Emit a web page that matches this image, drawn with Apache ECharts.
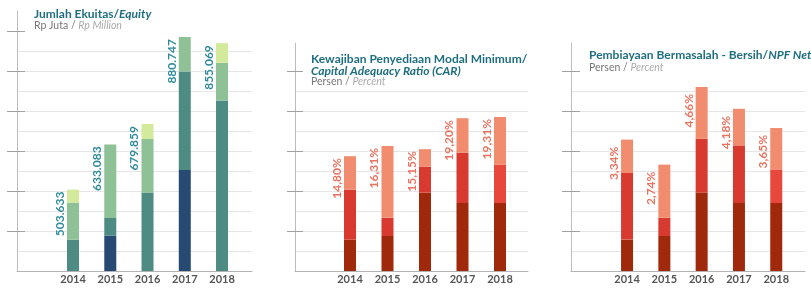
<!DOCTYPE html>
<html>
<head>
<meta charset="utf-8">
<script src="https://cdn.jsdelivr.net/npm/echarts@6.0.0/dist/echarts.min.js"></script>
<style>
  html, body { margin: 0; padding: 0; background: #fff; }
  #main { width: 811px; height: 288px; }
</style>
</head>
<body>
<div id="main"></div>
<script>
// 年份
const years = ['2014', '2015', '2016', '2017', '2018'];

// Jumlah Ekuitas - 每段高度 (1 = 一条网格线间距)
const equityNavy  = [0, 1.77, 0, 5.05, 0];
const equityTeal  = [1.57, 0.88, 3.92, 4.93, 8.53];
const equityGreen = [1.85, 3.68, 2.68, 1.72, 1.88];
const equityLime  = [0.65, 0, 0.75, 0, 0.98];
const equityLabels = ['503.633', '633.083', '679.859', '880.747', '855.069'];

// CAR
const carDark   = [1.57, 1.75, 3.92, 3.4, 3.4];
const carRed    = [2.5, 0.92, 1.3, 2.52, 1.92];
const carSalmon = [1.67, 3.58, 0.87, 1.72, 2.38];
const carLabels = ['14,80%', '16,31%', '15,15%', '19,20%', '19,31%'];

// NPF Net
const npfDark   = [1.57, 1.75, 3.92, 3.4, 3.4];
const npfRed    = [3.33, 0.92, 2.7, 2.88, 1.68];
const npfSalmon = [1.67, 2.65, 2.58, 1.83, 2.07];
const npfLabels = ['3,34%', '2,74%', '4,66%', '4,18%', '3,65%'];

const FONT = 'Lato, "Open Sans", sans-serif';
const BASE = 271; // 三个面板共同的基线 y
const TEAL_TITLE = '#1f6e80';

const panels = [
  {
    left: 17, width: 235, top: 11, max: 13, barLeft: 54.4, band: 37.25,
    gridLines: 11, ticks: [2, 4, 6, 8, 10, 12], tickOut: 10, tickIn: 8,
    title: '{t|Jumlah Ekuitas/}{ti|Equity}', sub: '{s|Rp Juta / }{si|Rp Million}',
    titleLeft: 34, titleTop: 8.5, itemGap: 0,
    stack: [
      { data: equityNavy, color: '#274a72' },
      { data: equityTeal, color: '#4e8b82' },
      { data: equityGreen, color: '#8fc196' },
      { data: equityLime, color: '#d3e99c' }
    ],
    labels: equityLabels, labelColor: '#2e8a9c', labelOffset: 2
  },
  {
    left: 295, width: 233, top: 43, max: 11.4, barLeft: 331.25, band: 37.5,
    gridLines: 9, ticks: [2, 4, 6, 8, 10], tickOut: 8, tickIn: 8,
    title: '{t|Kewajiban Penyediaan Modal Minimum/}\n{ti|Capital Adequacy Ratio (CAR)}',
    sub: '{s|Persen / }{si|Percent}',
    titleLeft: 311, titleTop: 53, itemGap: 0,
    stack: [
      { data: carDark, color: '#a1290b' },
      { data: carRed, color: '#d83a30', last: '#e8473b' },
      { data: carSalmon, color: '#f28c6e' }
    ],
    labels: carLabels, labelColor: '#e9735f', labelOffset: 2
  },
  {
    left: 571, width: 234, top: 43, max: 11.4, barLeft: 608.4, band: 37.3,
    gridLines: 9, ticks: [2, 4, 6, 8, 10], tickOut: 9, tickIn: 9,
    title: '{t|Pembiayaan Bermasalah - Bersih/}{ti|NPF Net}',
    sub: '{s|Persen / }{si|Percent}',
    titleLeft: 589, titleTop: 49, itemGap: 2,
    stack: [
      { data: npfDark, color: '#a1290b' },
      { data: npfRed, color: '#d83a30', last: '#e8473b' },
      { data: npfSalmon, color: '#f28c6e' }
    ],
    labels: npfLabels, labelColor: '#e9735f', labelOffset: 7
  }
];

const titleRich = {
  t:  { fontFamily: FONT, fontWeight: 'bold', fontSize: 12, lineHeight: 12, color: TEAL_TITLE },
  ti: { fontFamily: FONT, fontWeight: 'bold', fontStyle: 'italic', fontSize: 12, lineHeight: 12, color: TEAL_TITLE }
};
const subRich = {
  s:  { fontFamily: FONT, fontSize: 10.5, lineHeight: 10, color: '#777' },
  si: { fontFamily: FONT, fontStyle: 'italic', fontSize: 10.5, lineHeight: 10, color: '#aaa' }
};

let option = {
  animation: false,
  backgroundColor: '#fff',
  title: [], grid: [], xAxis: [], yAxis: [], series: []
};

/**
 * 生成一个面板: 一个框架网格(轴线, 刻度, 网格线) + 一个柱子网格(类目轴)
 * @param i 面板序号
 * @param p 面板配置
 */
function buildPanel(i, p) {
  option.title.push({
    left: p.titleLeft, top: p.titleTop, padding: 0, itemGap: p.itemGap,
    text: p.title, subtext: p.sub,
    textStyle: { color: TEAL_TITLE, rich: titleRich }, subtextStyle: { color: '#777', rich: subRich }
  });
  const h = BASE - p.top;
  // 框架网格
  option.grid.push({ left: p.left, top: p.top, width: p.width, height: h, containLabel: false, outerBoundsMode: 'none' });
  // 柱子网格
  option.grid.push({ left: p.barLeft, top: p.top, width: p.band * years.length, height: h, containLabel: false, outerBoundsMode: 'none' });

  option.xAxis.push({
    type: 'value', gridIndex: 2 * i, min: 0, max: 1,
    axisLine: { show: true, lineStyle: { color: '#b3b3b3' } },
    axisTick: { show: false }, axisLabel: { show: false }, splitLine: { show: false }
  });
  option.xAxis.push({
    type: 'category', gridIndex: 2 * i + 1, data: years,
    axisLine: { show: false }, axisTick: { show: false }, splitLine: { show: false },
    axisLabel: { margin: 3, color: '#555', fontFamily: FONT, fontWeight: 'bold', fontSize: 11 }
  });

  // 网格线 + 纵轴线
  let splitColors = [];
  for (let k = 0; k < 20; k++) splitColors.push(k >= 1 && k <= p.gridLines ? '#e6e6e6' : 'rgba(0,0,0,0)');
  option.yAxis.push({
    type: 'value', gridIndex: 2 * i, position: 'left', min: 0, max: p.max, interval: 1,
    axisLine: { show: true, lineStyle: { color: '#bdbdbd' } },
    axisTick: { show: false }, axisLabel: { show: false },
    splitLine: { show: true, showMinLine: true, showMaxLine: true, lineStyle: { color: splitColors } }
  });
  // 刻度: 外侧 + 内侧, 看起来穿过轴线
  [[false, p.tickOut], [true, p.tickIn]].forEach(([inside, len]) => {
    option.yAxis.push({
      type: 'value', gridIndex: 2 * i, position: 'left', offset: 0, min: 0, max: p.max,
      axisLine: { show: false }, axisLabel: { show: false }, splitLine: { show: false },
      axisTick: { show: true, inside: inside, length: len, customValues: p.ticks, lineStyle: { color: '#a0a0a0' } }
    });
  });
  // 柱子用的纵轴 (隐藏)
  option.yAxis.push({
    type: 'value', gridIndex: 2 * i + 1, min: 0, max: p.max, show: false
  });

  const xIndex = 2 * i + 1, yIndex = 4 * i + 3;
  p.stack.forEach(s => {
    option.series.push({
      type: 'bar', xAxisIndex: xIndex, yAxisIndex: yIndex, stack: 'p' + i, barWidth: 12,
      itemStyle: { color: params => (s.last && params.dataIndex === 4 ? s.last : s.color) },
      data: s.data
    });
  });
  // 总高度上的标签
  option.series.push({
    type: 'bar', xAxisIndex: xIndex, yAxisIndex: yIndex, barWidth: 12, barGap: '-100%', z: 5,
    itemStyle: { color: 'rgba(0,0,0,0)' },
    label: {
      show: true, position: [-1, p.labelOffset], rotate: 90, align: 'right', verticalAlign: 'bottom',
      color: p.labelColor, fontFamily: FONT, fontWeight: 'bold', fontSize: 12,
      formatter: params => p.labels[params.dataIndex]
    },
    data: years.map((y, k) => p.stack.reduce((a, s) => a + s.data[k], 0))
  });
}

panels.forEach((p, i) => buildPanel(i, p));

let chart = echarts.init(document.getElementById('main'));
chart.setOption(option);
</script>
</body>
</html>
